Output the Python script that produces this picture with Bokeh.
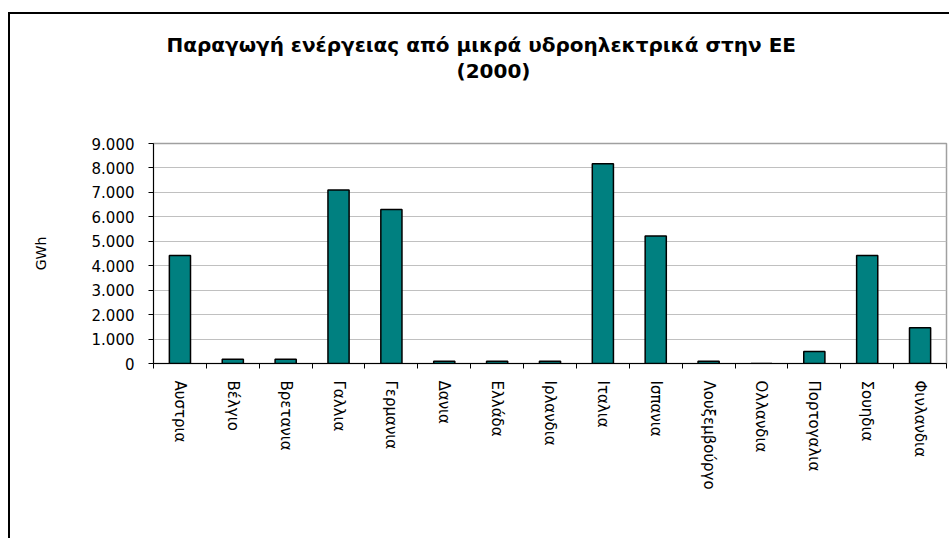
from bokeh.plotting import figure
from bokeh.models import FixedTicker, Range1d, ColumnDataSource, Title, LinearAxis
from bokeh.embed import file_html
from bokeh.resources import INLINE

# ---- data ----
countries = ["Αυστρια", "Βέλγιο", "Βρετανια", "Γαλλια", "Γερμανια", "Δανια",
             "Ελλάδα", "Ιρλανδια", "Ιταλια", "Ισπανια", "Λουξεμβούργο",
             "Ολλανδια", "Πορτογαλια", "Σουηδια", "Φινλανδια"]
gwh = [4420, 170, 170, 7100, 6300, 95, 95, 95, 8170, 5220, 95, 0, 490, 4420, 1460]
y_ticks = [0, 1000, 2000, 3000, 4000, 5000, 6000, 7000, 8000, 9000]
y_tick_labels = ["0", "1.000", "2.000", "3.000", "4.000", "5.000",
                 "6.000", "7.000", "8.000", "9.000"]
title_line1 = "Παραγωγή ενέργειας από μικρά υδροηλεκτρικά στην ΕΕ"
title_line2 = "(2000)"
y_label = "GWh"

FONT = "DejaVu Sans"
n = len(countries)
centers = [i + 0.5 for i in range(n)]
bounds = list(range(n + 1))

src = ColumnDataSource(dict(x=centers, top=gwh, name=countries))

p = figure(frame_width=793, frame_height=220,
           x_range=Range1d(0, n), y_range=Range1d(0, 9000),
           min_border_left=143, min_border_right=3,
           min_border_top=129, min_border_bottom=175,
           output_backend="svg", toolbar_location=None)

p.vbar(x="x", top="top", width=0.4, bottom=0, source=src,
       fill_color="#008080", line_color="black", line_width=1.5)

# frame / grid
p.outline_line_color = "#a0a0a0"
p.outline_line_width = 1.5
p.xgrid.visible = False
p.ygrid.ticker = FixedTicker(ticks=y_ticks)
p.ygrid.grid_line_color = "#c0c0c0"
p.ygrid.grid_line_width = 1

# y axis
p.yaxis.ticker = FixedTicker(ticks=y_ticks)
p.yaxis.major_label_overrides = {t: l for t, l in zip(y_ticks, y_tick_labels)}
p.yaxis.major_label_text_font = FONT
p.yaxis.major_label_text_font_size = "15px"
p.yaxis.major_label_text_color = "black"
p.yaxis.major_label_standoff = 14
p.yaxis.major_tick_out = 5
p.yaxis.major_tick_in = 0
p.yaxis.minor_tick_line_color = None
p.yaxis.axis_line_color = "black"
p.yaxis.major_tick_line_color = "black"
p.yaxis.axis_label = y_label
p.yaxis.axis_label_text_font = FONT
p.yaxis.axis_label_text_font_size = "14px"
p.yaxis.axis_label_text_font_style = "normal"
p.yaxis.axis_label_text_color = "black"
p.yaxis.axis_label_standoff = 40

# x axis
p.xaxis.ticker = FixedTicker(ticks=centers, minor_ticks=bounds)
p.xaxis.major_label_overrides = {c: nm for c, nm in zip(centers, countries)}
p.xaxis.major_label_orientation = "vertical"
p.xaxis.major_label_text_font = FONT
p.xaxis.major_label_text_font_size = "15px"
p.xaxis.major_label_text_color = "black"
p.xaxis.major_label_standoff = 12
p.xaxis.major_tick_line_color = None
p.xaxis.major_tick_out = 0
p.xaxis.major_tick_in = 0
p.xaxis.minor_tick_line_color = "black"
p.xaxis.minor_tick_out = 5
p.xaxis.minor_tick_in = 0
p.xaxis.axis_line_color = "black"

# invisible spacer between the frame and the title block
spacer = LinearAxis(ticker=FixedTicker(ticks=[n / 2]), axis_line_color=None,
                    major_tick_line_color=None, minor_tick_line_color=None,
                    major_tick_out=61, major_tick_in=0, minor_tick_out=0,
                    major_label_standoff=0, major_label_text_font_size="1px",
                    major_label_overrides={n / 2: ""})
p.add_layout(spacer, "above")

# title: line 1 is the outer title, line 2 sits nearer the frame
p.title.text = title_line1
p.title.align = "left"
p.title.offset = 13
p.title.standoff = 0
p.title.text_font = FONT
p.title.text_font_size = "20px"
p.title.text_font_style = "bold"
p.title.text_color = "black"
p.add_layout(Title(text=title_line2, align="left", offset=303, standoff=0,
                   text_font=FONT, text_font_size="20px",
                   text_font_style="bold", text_color="black"), "above")

p.styles = {"border-left": "2px solid black", "border-top": "2px solid black",
            "margin-left": "8px", "margin-top": "12px"}

open("out.html", "w").write(file_html(p, INLINE))
